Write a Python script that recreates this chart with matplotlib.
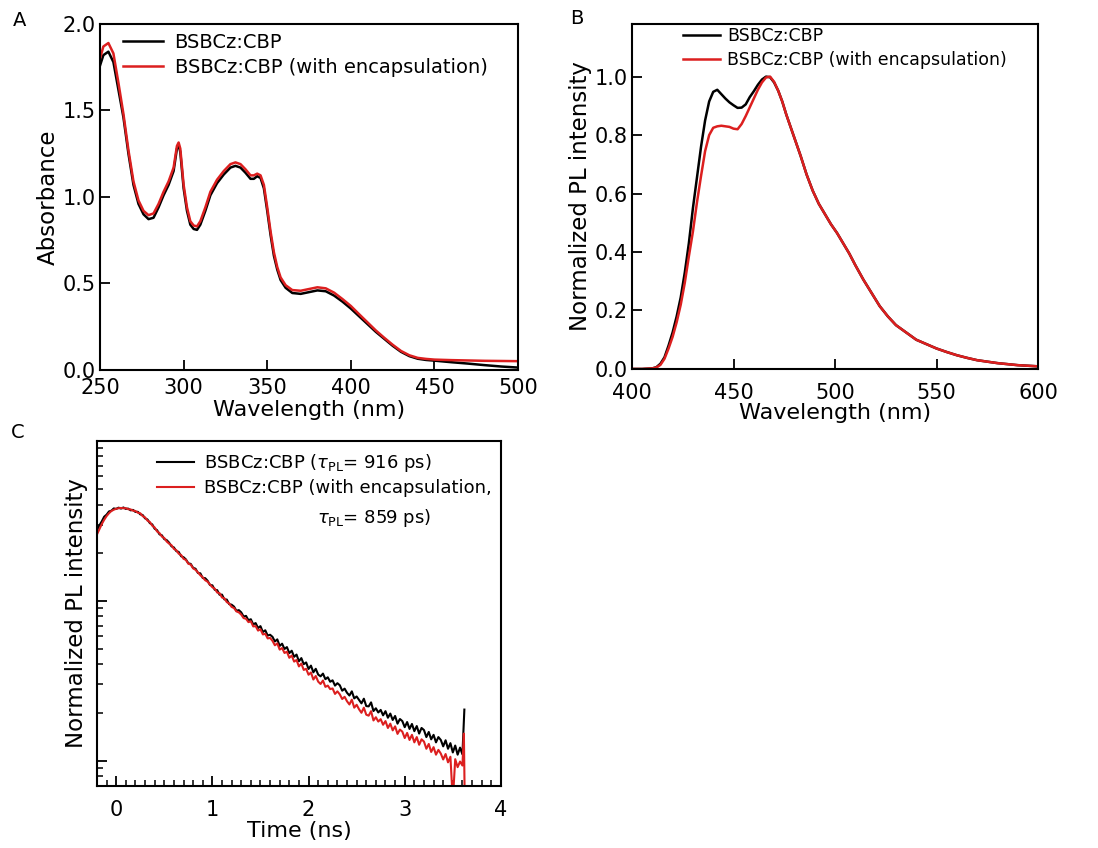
import numpy as np
import matplotlib
matplotlib.use('Agg')
import matplotlib.pyplot as plt
from matplotlib.ticker import MultipleLocator, NullFormatter, LogLocator

plt.rcParams['font.family'] = ['DejaVu Sans']
plt.rcParams['mathtext.fontset'] = 'dejavusans'

BLACK = '#000000'
RED = '#dc1f1f'

# ---- panel A: absorption ----
abs_wl = [250, 252, 255, 258, 261, 264, 267, 270, 273, 276, 279, 282, 285, 288, 291,
          294, 296, 297, 298, 300, 302, 304, 306, 308, 310, 313, 316, 320, 324, 328,
          331, 334, 337, 340, 342, 344, 346, 348, 350, 352, 354, 356, 358, 361, 365,
          370, 375, 380, 385, 390, 395, 400, 405, 410, 415, 420, 425, 430, 435, 440,
          445, 450, 460, 470, 480, 490, 500]
abs_film = [1.76, 1.82, 1.84, 1.78, 1.62, 1.46, 1.25, 1.07, 0.96, 0.90, 0.872, 0.88, 0.94, 1.01, 1.07,
            1.15, 1.28, 1.30, 1.26, 1.05, 0.92, 0.84, 0.815, 0.81, 0.84, 0.92, 1.01, 1.08, 1.13, 1.17,
            1.18, 1.17, 1.14, 1.105, 1.105, 1.12, 1.11, 1.05, 0.92, 0.78, 0.66, 0.58, 0.52, 0.475, 0.445,
            0.44, 0.45, 0.46, 0.455, 0.43, 0.395, 0.355, 0.31, 0.265, 0.22, 0.18, 0.14, 0.105, 0.08, 0.065,
            0.058, 0.054, 0.045, 0.037, 0.028, 0.02, 0.014]
abs_encap = [1.80, 1.87, 1.89, 1.83, 1.66, 1.48, 1.27, 1.09, 0.98, 0.92, 0.895, 0.905, 0.96, 1.03, 1.09,
             1.17, 1.295, 1.315, 1.28, 1.07, 0.94, 0.86, 0.835, 0.83, 0.86, 0.94, 1.03, 1.10, 1.15, 1.19,
             1.20, 1.19, 1.16, 1.125, 1.125, 1.135, 1.125, 1.07, 0.94, 0.80, 0.68, 0.595, 0.535, 0.49, 0.462,
             0.458, 0.468, 0.478, 0.472, 0.447, 0.41, 0.37, 0.322, 0.275, 0.228, 0.186, 0.146, 0.11, 0.085, 0.07,
             0.064, 0.06, 0.057, 0.055, 0.053, 0.052, 0.051]

# ---- panel B: steady-state PL ----
pl_wl = [400, 405, 410, 412, 414, 416, 418, 420, 422, 424, 426, 428, 430, 432, 434,
         436, 438, 440, 442, 444, 446, 448, 450, 452, 454, 456, 458, 460, 462, 464,
         466, 468, 470, 472, 474, 476, 478, 480, 483, 486, 489, 492, 495, 498, 501,
         504, 507, 510, 514, 518, 522, 526, 530, 535, 540, 545, 550, 555, 560, 565,
         570, 580, 590, 600]
pl_film = [0, 0, 0.002, 0.006, 0.018, 0.04, 0.08, 0.125, 0.18, 0.245, 0.33, 0.43, 0.55, 0.655, 0.76,
           0.85, 0.915, 0.948, 0.955, 0.94, 0.925, 0.912, 0.902, 0.893, 0.894, 0.905, 0.93, 0.95, 0.972, 0.99,
           1.0, 0.998, 0.98, 0.952, 0.915, 0.87, 0.83, 0.79, 0.73, 0.665, 0.61, 0.565, 0.53, 0.495, 0.465,
           0.43, 0.395, 0.355, 0.305, 0.26, 0.215, 0.18, 0.15, 0.125, 0.1, 0.085, 0.07, 0.058, 0.047, 0.038,
           0.03, 0.02, 0.013, 0.009]
pl_encap = [0, 0, 0.002, 0.005, 0.014, 0.035, 0.07, 0.11, 0.16, 0.22, 0.295, 0.385, 0.47, 0.57, 0.66,
            0.745, 0.8, 0.825, 0.83, 0.832, 0.83, 0.828, 0.822, 0.82, 0.838, 0.865, 0.895, 0.925, 0.955, 0.98,
            0.997, 1.0, 0.982, 0.952, 0.915, 0.87, 0.83, 0.79, 0.73, 0.665, 0.61, 0.565, 0.53, 0.495, 0.465,
            0.43, 0.395, 0.355, 0.305, 0.26, 0.215, 0.18, 0.15, 0.125, 0.1, 0.085, 0.07, 0.058, 0.047, 0.038,
            0.03, 0.02, 0.013, 0.009]

# ---- panel C: transient PL, log10 of normalized intensity, 25 ps channels ----
tr_time = np.round(-0.2 + 0.025 * np.arange(153), 3)
tr_film_log = [
    -0.560, -0.528, -0.503, -0.474, -0.461, -0.441, -0.436, -0.422, -0.425, -0.417,
    -0.423, -0.416, -0.425, -0.423, -0.434, -0.431, -0.444, -0.443, -0.459, -0.463,
    -0.484, -0.491, -0.514, -0.522, -0.549, -0.558, -0.584, -0.590, -0.614, -0.620,
    -0.636, -0.659, -0.666, -0.689, -0.694, -0.721, -0.727, -0.741, -0.765, -0.769,
    -0.794, -0.799, -0.826, -0.828, -0.857, -0.858, -0.874, -0.901, -0.903, -0.931,
    -0.933, -0.962, -0.961, -0.991, -0.992, -1.021, -1.024, -1.036, -1.062, -1.058,
    -1.072, -1.098, -1.094, -1.121, -1.115, -1.147, -1.139, -1.170, -1.158, -1.195,
    -1.184, -1.217, -1.212, -1.225, -1.254, -1.241, -1.282, -1.268, -1.301, -1.289,
    -1.327, -1.312, -1.350, -1.336, -1.378, -1.358, -1.396, -1.385, -1.426, -1.405,
    -1.447, -1.425, -1.461, -1.472, -1.455, -1.490, -1.478, -1.506, -1.497, -1.530,
    -1.515, -1.528, -1.562, -1.549, -1.575, -1.592, -1.566, -1.610, -1.598, -1.620,
    -1.641, -1.612, -1.658, -1.660, -1.635, -1.689, -1.672, -1.698, -1.682, -1.716,
    -1.690, -1.731, -1.705, -1.745, -1.720, -1.768, -1.739, -1.752, -1.790, -1.758,
    -1.801, -1.770, -1.815, -1.783, -1.830, -1.795, -1.808, -1.852, -1.820, -1.866,
    -1.838, -1.885, -1.852, -1.870, -1.910, -1.872, -1.925, -1.890, -1.948, -1.905,
    -1.962, -1.918, -1.960]
tr_encap_log = [
    -0.585, -0.552, -0.520, -0.493, -0.470, -0.452, -0.438, -0.430, -0.424, -0.421,
    -0.419, -0.421, -0.420, -0.427, -0.428, -0.436, -0.438, -0.449, -0.452, -0.470,
    -0.478, -0.498, -0.507, -0.530, -0.541, -0.566, -0.576, -0.598, -0.607, -0.629,
    -0.642, -0.652, -0.675, -0.683, -0.705, -0.713, -0.737, -0.744, -0.768, -0.773,
    -0.797, -0.806, -0.822, -0.840, -0.853, -0.871, -0.880, -0.898, -0.915, -0.924,
    -0.948, -0.952, -0.979, -0.984, -1.008, -1.016, -1.038, -1.045, -1.066, -1.072,
    -1.086, -1.108, -1.112, -1.133, -1.128, -1.160, -1.158, -1.186, -1.178, -1.210,
    -1.206, -1.235, -1.232, -1.250, -1.278, -1.266, -1.305, -1.295, -1.326, -1.318,
    -1.356, -1.342, -1.380, -1.370, -1.410, -1.392, -1.432, -1.425, -1.462, -1.448,
    -1.492, -1.470, -1.505, -1.520, -1.498, -1.538, -1.530, -1.552, -1.548, -1.582,
    -1.566, -1.585, -1.614, -1.600, -1.628, -1.648, -1.618, -1.668, -1.650, -1.678,
    -1.700, -1.668, -1.712, -1.718, -1.690, -1.748, -1.728, -1.755, -1.740, -1.775,
    -1.752, -1.795, -1.768, -1.810, -1.785, -1.832, -1.805, -1.818, -1.858, -1.826,
    -1.870, -1.838, -1.885, -1.852, -1.900, -1.866, -1.880, -1.925, -1.895, -1.945,
    -1.915, -1.962, -1.932, -1.955, -1.992, -1.958, -2.010, -1.975, -2.250, -1.990,
    -2.040, -2.005, -2.030]
# last channel spike
tail_film_t, tail_film_log = [3.62], [-1.68]
tail_encap_t, tail_encap_log = [3.615, 3.625], [-1.83, -2.30]

labels = ['BSBCz:CBP', 'BSBCz:CBP (with encapsulation)']
tau_film, tau_encap = 916, 859


def style_axes(ax, xpad=3, length=7):
    for s in ax.spines.values():
        s.set_linewidth(1.5)
    ax.tick_params(which='major', direction='in', length=length, width=1.3,
                   labelsize=15, pad=3, top=False, right=False)
    ax.tick_params(which='minor', direction='in', length=4, width=1.1,
                   top=False, right=False)
    ax.tick_params(axis='x', which='major', pad=xpad)


fig = plt.figure(figsize=(10.98, 8.48), dpi=100)

# A
axA = fig.add_axes([0.0911, 0.5637, 0.3807, 0.408])
axA.plot(abs_wl, abs_film, color=BLACK, lw=1.8, label=labels[0])
axA.plot(abs_wl, abs_encap, color=RED, lw=1.8, label=labels[1])
axA.set_xlim(250, 500)
axA.set_ylim(0, 2.0)
axA.xaxis.set_major_locator(MultipleLocator(50))
axA.yaxis.set_major_locator(MultipleLocator(0.5))
axA.yaxis.set_major_formatter(plt.FormatStrFormatter('%.1f'))
style_axes(axA, xpad=6)
axA.set_xlabel('Wavelength (nm)', fontsize=16, labelpad=1)
axA.set_ylabel('Absorbance', fontsize=16.5, labelpad=2)
axA.legend(loc='upper left', bbox_to_anchor=(0.055, 0.974), frameon=False,
           fontsize=14, handlelength=2.05, handletextpad=0.6, labelspacing=0.3,
           borderpad=0, borderaxespad=0)

# B
axB = fig.add_axes([0.5756, 0.5649, 0.3698, 0.4068])
axB.plot(pl_wl, pl_film, color=BLACK, lw=1.8, label=labels[0])
axB.plot(pl_wl, pl_encap, color=RED, lw=1.8, label=labels[1])
axB.set_xlim(400, 600)
axB.set_ylim(0, 1.18)
axB.xaxis.set_major_locator(MultipleLocator(50))
axB.yaxis.set_major_locator(MultipleLocator(0.2))
axB.yaxis.set_major_formatter(plt.FormatStrFormatter('%.1f'))
style_axes(axB, xpad=10)
axB.set_xlabel('Wavelength (nm)', fontsize=16, labelpad=0)
axB.set_ylabel('Normalized PL intensity', fontsize=16.5, labelpad=2)
axB.legend(loc='upper left', bbox_to_anchor=(0.126, 0.99), frameon=False,
           fontsize=12.5, handlelength=2.1, handletextpad=0.45, labelspacing=0.3,
           borderpad=0, borderaxespad=0)

# C
axC = fig.add_axes([0.0883, 0.0731, 0.3679, 0.4069])
tC_film = list(tr_time) + tail_film_t
tC_encap = list(tr_time) + tail_encap_t
axC.plot(tC_film, 10 ** np.array(tr_film_log + tail_film_log), color=BLACK, lw=1.5,
         label=r'BSBCz:CBP ($\tau_{\rm PL}$= %d ps)' % tau_film)
axC.plot(tC_encap, 10 ** np.array(tr_encap_log + tail_encap_log), color=RED, lw=1.5,
         label='BSBCz:CBP (with encapsulation,')
axC.set_yscale('log')
axC.set_xlim(-0.2, 4)
axC.set_ylim(10 ** -2.158, 1.0)
axC.xaxis.set_major_locator(MultipleLocator(1))
axC.xaxis.set_minor_locator(MultipleLocator(0.1))
axC.yaxis.set_major_locator(LogLocator(base=10))
axC.yaxis.set_minor_locator(LogLocator(base=10, subs=np.arange(2, 10)))
axC.yaxis.set_major_formatter(NullFormatter())
axC.yaxis.set_minor_formatter(NullFormatter())
style_axes(axC, xpad=10)
axC.set_xlabel('Time (ns)', fontsize=16, labelpad=1)
axC.set_ylabel('Normalized PL intensity', fontsize=16.5, labelpad=3)
axC.legend(loc='upper left', bbox_to_anchor=(0.149, 0.968), frameon=False,
           fontsize=13, handlelength=2.05, handletextpad=0.55, labelspacing=0.3,
           borderpad=0, borderaxespad=0)
axC.text(0.545, 0.777, r'$\tau_{\rm PL}$= %d ps)' % tau_encap, transform=axC.transAxes,
         fontsize=13, ha='left', va='center')

fig.text(20 / 1098, 1 - 21 / 848, 'A', fontsize=14, ha='center', va='center')
fig.text(577 / 1098, 1 - 19 / 848, 'B', fontsize=14, ha='center', va='center')
fig.text(18 / 1098, 1 - 432 / 848, 'C', fontsize=14, ha='center', va='center')

fig.savefig('out.png', dpi=100)
